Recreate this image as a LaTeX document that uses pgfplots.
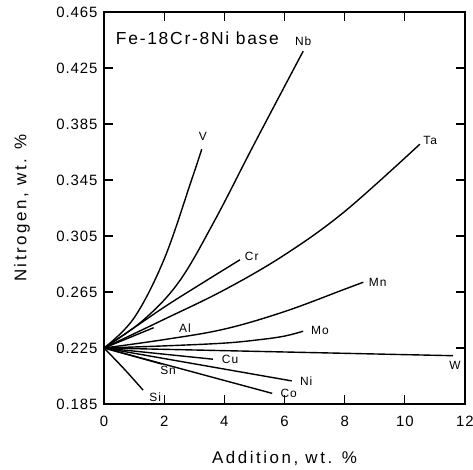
\documentclass[border=0pt]{standalone}
\usepackage{fontspec}
\setmainfont{Liberation Sans}
\usepackage{pgfplots}
\pgfplotsset{compat=1.18}
\usetikzlibrary{calc}
\newcommand\lab{\fontsize{12}{14}\selectfont\addfontfeature{LetterSpace=8}}
\begin{document}
\begin{tikzpicture}
\begin{axis}[name=ax, scale only axis, width=361bp, height=392bp,
 xmin=0, xmax=12, ymin=0.185, ymax=0.465,
 xtick={0,2,...,12}, ytick={0.185,0.225,0.265,0.305,0.345,0.385,0.425,0.465},
 tick align=inside, major tick length=9bp,
 tick style={line width=1.1pt, black},
 axis line style={line width=1.3pt},
 /pgf/number format/assume math mode=true,
 yticklabel style={xshift=-3bp, /pgf/number format/fixed, /pgf/number format/fixed zerofill, /pgf/number format/precision=3},
 ticklabel style={font=\fontsize{15}{18}\selectfont\addfontfeature{LetterSpace=6}},
 xticklabel style={yshift=-9bp},
 xlabel={Addition, wt. \%},
 ylabel={Nitrogen, wt. \%},
 label style={font=\fontsize{17}{20}\selectfont\addfontfeature{LetterSpace=15}},
 xlabel style={at={(axis description cs:0.5,-0.138)}, anchor=center},
 ylabel style={at={(axis description cs:-0.227,0.5)}, anchor=center},
 clip=false,
 cycle list={{black, solid, mark=none}},
 every axis plot/.append style={line width=1.4pt, smooth, tension=0.6},
]
% V
\addplot coordinates {(0,0.225) (1.0,0.2465) (2.0,0.2885) (2.91,0.345) (3.25,0.367)};
% Nb
\addplot coordinates {(0,0.225) (1.3,0.2448) (2.5,0.2725) (3.69,0.3165) (5.0,0.371) (6.62,0.437)};
% Cr
\addplot coordinates {(0,0.225) (1,0.2395) (2.08,0.2553) (3.3,0.2718) (4.52,0.288)};
% Ta
\addplot coordinates {(0,0.225) (2,0.2455) (4,0.2665) (6,0.2915) (8,0.3225) (10.5,0.3706)};
% Mn
\addplot coordinates {(0,0.225) (2,0.231) (4,0.2385) (6,0.251) (8,0.267) (8.62,0.272)};
% Al
\addplot coordinates {(0,0.225) (0.8,0.232) (1.65,0.2395)};
% Mo
\addplot coordinates {(0,0.225) (2,0.2265) (4,0.2285) (5.19,0.231) (6,0.2335) (6.62,0.237)};
% W
\addplot coordinates {(0,0.225) (11.6,0.2195)};
% Cu
\addplot coordinates {(0,0.225) (3.62,0.217)};
% Ni
\addplot coordinates {(0,0.225) (6.24,0.2015)};
% Co
\addplot coordinates {(0,0.225) (5.59,0.1926)};
% Sn
\addplot coordinates {(0,0.225) (1.93,0.2135)};
% Si
\addplot coordinates {(0,0.225) (0.65,0.2105) (1.3,0.1949)};

\node[anchor=west, font=\fontsize{17.5}{20}\selectfont\addfontfeature{LetterSpace=10}] at (axis cs:0.28,0.4463) {Fe-18Cr-8Ni base};
\node[font=\lab] at (axis cs:6.62,0.444) {Nb};
\node[font=\lab] at (axis cs:3.29,0.376) {V};
\node[font=\lab] at (axis cs:10.84,0.3734) {Ta};
\node[font=\lab] at (axis cs:4.91,0.2907) {Cr};
\node[font=\lab] at (axis cs:9.1,0.2717) {Mn};
\node[font=\lab] at (axis cs:7.18,0.2372) {Mo};
\node[font=\lab] at (axis cs:2.69,0.2394) {Al};
\node[font=\lab] at (axis cs:11.67,0.2128) {W};
\node[font=\lab] at (axis cs:4.19,0.217) {Cu};
\node[font=\lab] at (axis cs:6.72,0.2013) {Ni};
\node[font=\lab] at (axis cs:6.14,0.1926) {Co};
\node[font=\lab] at (axis cs:2.13,0.2088) {Sn};
\node[font=\lab] at (axis cs:1.7,0.1895) {Si};
\end{axis}
\pgfresetboundingbox
\path ($(ax.south west)+(-104bp,-66bp)$) rectangle ($(ax.north east)+(8bp,12bp)$);
\end{tikzpicture}
\end{document}
